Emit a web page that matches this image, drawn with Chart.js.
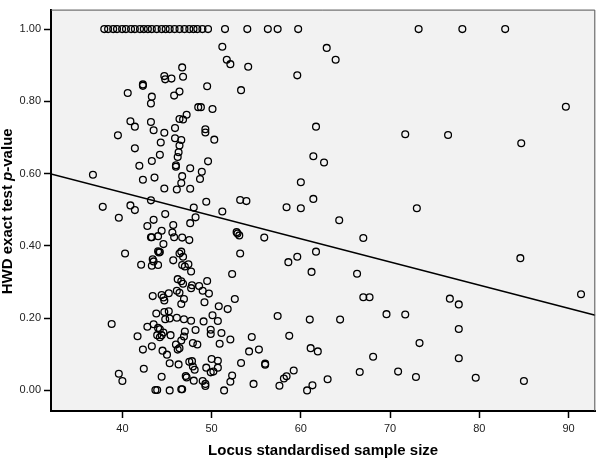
<!DOCTYPE html>
<html>
<head>
<meta charset="utf-8">
<script src="https://cdn.jsdelivr.net/npm/chart.js@4.4.1/dist/chart.umd.min.js"></script>
<style>
  html, body { margin: 0; padding: 0; background: #fff; }
  #wrap { width: 600px; height: 460px; }
</style>
</head>
<body>
<div id="wrap"><canvas id="hwd-chart" width="600" height="460"></canvas></div>
<script>
// Locus standardised sample size (x) and HWD exact test p-value (y)
// points sitting on p = 1.00
const topRowSize = [
    37.97, 38.4, 38.97, 39.4, 39.97, 40.4, 40.97, 41.4,
    41.97, 42.4, 42.86, 43.3, 43.85, 44.4, 44.85, 45.3,
    45.85, 46.4, 46.96, 47.5, 47.97, 48.4, 48.97, 49.6,
    51.5, 54.0, 56.3, 57.4, 59.7, 73.2, 78.1, 82.9
];
const topRowP = [
    1, 1, 1, 1, 1, 1, 1, 1,
    1, 1, 1, 1, 1, 1, 1, 1,
    1, 1, 1, 1, 1, 1, 1, 1,
    1, 1, 1, 1, 1, 1, 1, 1
];

// points from about 48 upwards
const rightSize = [
    51.2, 62.9, 51.7, 52.1, 54.1, 63.9, 59.6, 49.5,
    53.3, 48.8, 48.5, 50.1, 89.7, 49.3, 49.3, 50.3,
    61.7, 71.7, 76.5, 84.7, 49.6, 61.4, 62.6, 48.9,
    48.7, 60.0, 49.4, 53.2, 53.9, 61.4, 58.4, 60.0,
    73.0, 51.2, 64.3, 67.0, 55.9, 52.8, 52.9, 53.1,
    53.2, 84.6, 58.6, 59.6, 61.7, 91.4, 52.3, 61.2,
    66.3, 49.5, 49.0, 49.7, 48.6, 52.6, 49.2, 50.8,
    51.8, 67.0, 67.7, 76.7, 77.7, 50.1, 50.7, 49.1,
    57.4, 61.0, 64.4, 69.6, 71.7, 77.7, 49.9, 49.9,
    51.1, 48.4, 50.9, 52.1, 54.5, 58.7, 54.2, 55.3,
    61.1, 61.9, 73.3, 68.1, 77.7, 50.0, 50.7, 49.4,
    50.7, 49.9, 50.2, 53.3, 56.0, 56.0, 59.2, 58.4,
    58.1, 52.3, 52.1, 49.0, 49.3, 49.3, 51.4, 54.7,
    57.6, 61.3, 60.7, 63.0, 66.6, 70.9, 72.9, 79.6,
    85.0
];
const rightP = [
    0.951, 0.948, 0.915, 0.903, 0.896, 0.915, 0.872, 0.842,
    0.831, 0.784, 0.784, 0.779, 0.785, 0.723, 0.714, 0.694,
    0.730, 0.709, 0.707, 0.684, 0.634, 0.648, 0.631, 0.605,
    0.585, 0.576, 0.522, 0.527, 0.524, 0.530, 0.507, 0.504,
    0.504, 0.495, 0.471, 0.422, 0.423, 0.438, 0.434, 0.429,
    0.379, 0.366, 0.355, 0.370, 0.384, 0.266, 0.322, 0.328,
    0.323, 0.303, 0.276, 0.268, 0.289, 0.253, 0.244, 0.233,
    0.225, 0.258, 0.258, 0.254, 0.238, 0.208, 0.192, 0.191,
    0.206, 0.196, 0.196, 0.211, 0.210, 0.170, 0.168, 0.156,
    0.159, 0.127, 0.129, 0.141, 0.148, 0.151, 0.108, 0.113,
    0.117, 0.108, 0.131, 0.093, 0.089, 0.087, 0.082, 0.063,
    0.063, 0.050, 0.052, 0.076, 0.074, 0.071, 0.055, 0.039,
    0.033, 0.041, 0.024, 0.026, 0.018, 0.012, 0.000, 0.018,
    0.013, 0.014, 0.000, 0.031, 0.051, 0.052, 0.037, 0.035,
    0.026
];

// dense cluster, upper half
const upperSize = [
    46.7, 44.7, 44.8, 45.5, 46.8, 42.3, 42.3, 40.6,
    43.3, 43.2, 45.8, 46.4, 47.2, 46.4, 46.8, 40.9,
    41.4, 43.2, 43.5, 39.5, 44.7, 45.9, 44.3, 45.9,
    46.6, 46.4, 46.3, 46.2, 41.4, 44.2, 43.3, 41.9,
    46.0, 46.0, 47.6, 46.7, 36.7, 42.3, 43.6, 46.6,
    44.7, 46.1, 47.6, 43.2
];
const upperP = [
    0.894, 0.870, 0.861, 0.863, 0.868, 0.847, 0.843, 0.823,
    0.813, 0.794, 0.816, 0.827, 0.763, 0.751, 0.750, 0.745,
    0.730, 0.743, 0.720, 0.706, 0.713, 0.726, 0.686, 0.698,
    0.693, 0.678, 0.659, 0.646, 0.670, 0.652, 0.635, 0.622,
    0.619, 0.623, 0.615, 0.593, 0.597, 0.583, 0.589, 0.574,
    0.559, 0.556, 0.558, 0.526
];

// dense cluster, lower half
const lowerSize = [
    37.8, 40.9, 41.4, 39.6, 42.8, 43.5, 44.8, 45.7,
    48.0, 48.2, 47.6, 43.2, 43.3, 44.0, 44.4, 44.6,
    45.6, 45.8, 46.7, 47.5, 40.3, 44.0, 44.2, 44.1,
    46.4, 46.6, 46.8, 42.1, 43.3, 43.4, 43.5, 44.0,
    45.7, 46.7, 47.0, 47.4, 47.7, 46.2, 46.6, 46.8,
    47.8, 47.7, 43.4, 44.4, 44.6, 44.7, 45.2, 46.1,
    46.4, 46.6, 46.9, 43.8, 44.7, 44.8, 45.3, 45.2,
    46.1, 46.9, 47.7, 38.8, 42.8, 43.5, 44.0, 44.2,
    44.6, 41.7, 43.9, 44.2, 44.4, 45.4, 47.0, 46.9,
    46.6, 48.2, 47.9, 42.3, 43.3, 44.5, 45.0, 46.0,
    46.2, 46.4, 42.4, 45.3, 46.3, 47.5, 47.8, 47.9,
    48.1, 44.4, 39.6, 40.0, 43.7, 43.9, 45.3, 46.6,
    46.7, 47.2, 47.1, 48.0
];
const lowerP = [
    0.508, 0.512, 0.499, 0.478, 0.455, 0.472, 0.488, 0.458,
    0.506, 0.479, 0.463, 0.424, 0.424, 0.427, 0.442, 0.405,
    0.437, 0.424, 0.423, 0.416, 0.379, 0.385, 0.383, 0.382,
    0.379, 0.384, 0.370, 0.348, 0.345, 0.363, 0.357, 0.347,
    0.360, 0.347, 0.343, 0.349, 0.329, 0.308, 0.302, 0.295,
    0.291, 0.283, 0.261, 0.264, 0.257, 0.249, 0.269, 0.276,
    0.270, 0.239, 0.253, 0.213, 0.217, 0.197, 0.199, 0.219,
    0.201, 0.197, 0.193, 0.184, 0.176, 0.183, 0.173, 0.169,
    0.160, 0.150, 0.153, 0.147, 0.153, 0.153, 0.163, 0.149,
    0.138, 0.167, 0.131, 0.113, 0.122, 0.110, 0.099, 0.127,
    0.113, 0.117, 0.060, 0.075, 0.072, 0.079, 0.081, 0.066,
    0.057, 0.038, 0.046, 0.026, 0.001, 0.001, 0.000, 0.003,
    0.003, 0.036, 0.040, 0.027
];

// fitted regression line, read at both edges of the plot
const fitSize = [32, 93];
const fitP = [0.599, 0.208];

const xTicks = [40, 50, 60, 70, 80, 90];
const yTicks = [0, 0.2, 0.4, 0.6, 0.8, 1.0];

const sampleSize = [...topRowSize, ...rightSize, ...upperSize, ...lowerSize];
const pValue = [...topRowP, ...rightP, ...upperP, ...lowerP];

const toPoints = (xs, ys) => xs.map((x, i) => ({ x: x, y: ys[i] }));

// grey plot panel, frame and the mixed-style y title
const plotFrame = {
    id: "plotFrame",
    beforeDraw(chart) {
        const { ctx, chartArea: a } = chart;
        ctx.save();
        ctx.fillStyle = "#f2f2f2";
        ctx.fillRect(a.left, a.top, a.width, a.height);
        ctx.restore();
    },
    afterDraw(chart) {
        const { ctx, chartArea: a } = chart;
        ctx.save();
        ctx.strokeStyle = "#555";
        ctx.lineWidth = 1;
        ctx.beginPath();
        ctx.moveTo(a.left, a.top + 0.5);
        ctx.lineTo(a.right - 0.5, a.top + 0.5);
        ctx.lineTo(a.right - 0.5, a.bottom);
        ctx.stroke();

        const parts = [
            { text: "HWD exact test ", font: "bold 15px 'Liberation Sans', Arial, sans-serif" },
            { text: "p", font: "italic bold 15px 'Liberation Sans', Arial, sans-serif" },
            { text: "-value", font: "bold 15px 'Liberation Sans', Arial, sans-serif" }
        ];
        let total = 0;
        parts.forEach(p => { ctx.font = p.font; p.w = ctx.measureText(p.text).width; total += p.w; });
        ctx.translate(8, (a.top + a.bottom) / 2 + 1);
        ctx.rotate(-Math.PI / 2);
        ctx.fillStyle = "#000";
        ctx.textBaseline = "middle";
        ctx.textAlign = "left";
        let pos = -total / 2;
        parts.forEach(p => { ctx.font = p.font; ctx.fillText(p.text, pos, 0); pos += p.w; });
        ctx.restore();
    }
};

const ctx = document.getElementById("hwd-chart").getContext("2d");

new Chart(ctx, {
    type: "scatter",
    data: {
        datasets: [
            {
                label: "Loci",
                data: toPoints(sampleSize, pValue),
                pointStyle: "circle",
                pointRadius: 3.4,
                pointBorderWidth: 1.3,
                borderColor: "#000",
                backgroundColor: "rgba(0,0,0,0)",
                pointHoverRadius: 3.4
            },
            {
                label: "Fit",
                type: "line",
                data: toPoints(fitSize, fitP),
                borderColor: "#000",
                borderWidth: 1.6,
                pointRadius: 0,
                fill: false
            }
        ]
    },
    options: {
        responsive: false,
        animation: false,
        layout: { padding: { top: 1, right: 1, left: 0, bottom: 0 } },
        plugins: {
            legend: { display: false },
            tooltip: { enabled: false }
        },
        scales: {
            x: {
                type: "linear",
                min: 32,
                max: 93,
                afterBuildTicks: axis => { axis.ticks = xTicks.map(v => ({ value: v })); },
                afterFit: axis => { axis.height = 49; },
                border: { display: true, color: "#000", width: 2 },
                grid: { drawOnChartArea: false, drawTicks: true, tickLength: 7, tickColor: "#000", tickWidth: 1.5 },
                ticks: {
                    color: "#222",
                    padding: 4,
                    font: { family: "'Liberation Sans', Arial, sans-serif", size: 11 },
                    callback: v => String(v)
                },
                title: {
                    display: true,
                    text: "Locus standardised sample size",
                    color: "#000",
                    padding: { top: 0, bottom: 0 },
                    font: { family: "'Liberation Sans', Arial, sans-serif", size: 15, weight: "bold" }
                }
            },
            y: {
                type: "linear",
                min: -0.057,
                max: 1.054,
                afterBuildTicks: axis => { axis.ticks = yTicks.map(v => ({ value: v })); },
                afterFit: axis => { axis.width = 51; },
                border: { display: true, color: "#000", width: 2 },
                grid: { drawOnChartArea: false, drawTicks: true, tickLength: 7, tickColor: "#000", tickWidth: 1.5 },
                ticks: {
                    color: "#222",
                    padding: 3,
                    font: { family: "'Liberation Sans', Arial, sans-serif", size: 11 },
                    callback: v => Number(v).toFixed(2)
                }
            }
        }
    },
    plugins: [plotFrame]
});
</script>
</body>
</html>
